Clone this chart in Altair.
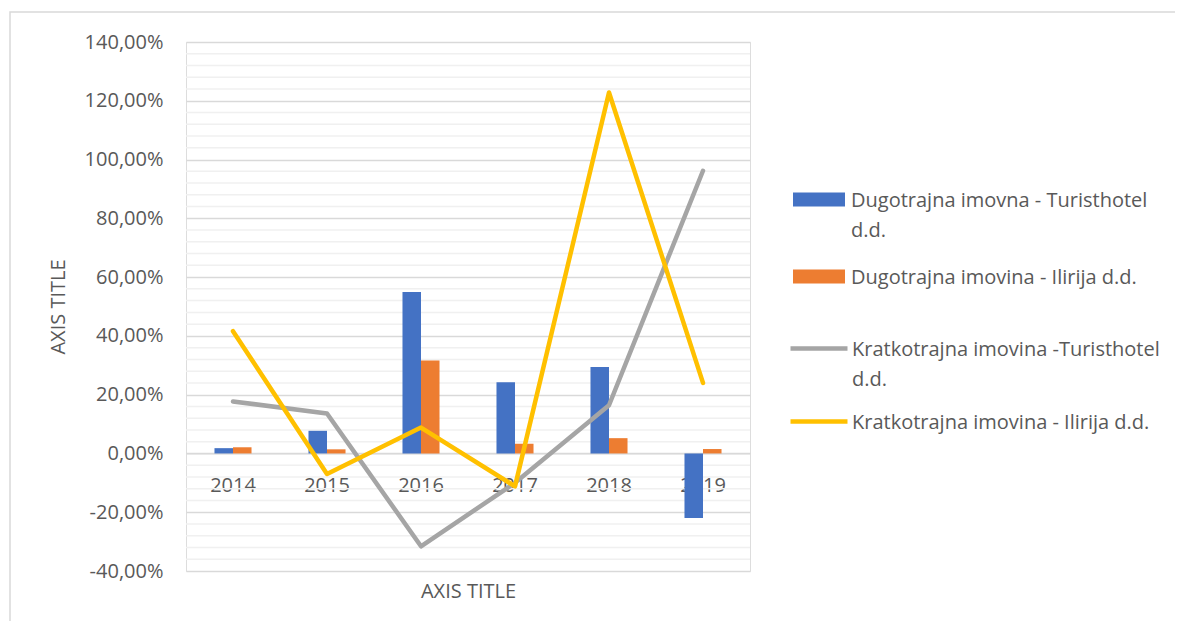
import altair as alt
import pandas as pd

years = ["2014", "2015", "2016", "2017", "2018", "2019"]
bar_series = ["Dugotrajna imovna - Turisthotel d.d.", "Dugotrajna imovina - Ilirija d.d."]
line_series = ["Kratkotrajna imovina -Turisthotel d.d.", "Kratkotrajna imovina - Ilirija d.d."]

# values in percent
dug_turisthotel = [1.8, 7.7, 54.9, 24.2, 29.4, -22.0]
dug_ilirija = [2.1, 1.4, 31.6, 3.3, 5.2, 1.5]
krat_turisthotel = [17.7, 13.6, -31.6, -10.0, 16.4, 96.2]
krat_ilirija = [41.6, -7.0, 8.8, -11.2, 122.8, 24.0]

y_ticks = [-40, -20, 0, 20, 40, 60, 80, 100, 120, 140]
minor_grid = [v for v in range(-40, 141, 4) if v % 20 != 0]

bar_colors = ["#4472C4", "#ED7D31"]
line_colors = ["#A5A5A5", "#FFC000"]

FONT = "Open Sans"
TXT = "#595959"

bars_df = pd.DataFrame({
    "year": years * 2,
    "series": [bar_series[0]] * 6 + [bar_series[1]] * 6,
    "value": dug_turisthotel + dug_ilirija,
})
lines_df = pd.DataFrame({
    "year": years * 2,
    "series": [line_series[0]] * 6 + [line_series[1]] * 6,
    "value": krat_turisthotel + krat_ilirija,
})
grid_df = pd.DataFrame({"value": minor_grid})

W, H = 564, 529

x_enc = alt.X(
    "year:N",
    sort=years,
    scale=alt.Scale(paddingInner=0.606, paddingOuter=0.303),
    axis=alt.Axis(
        title="AXIS TITLE",
        offset=-117.7,
        ticks=False,
        tickSize=0,
        domainColor="#D9D9D9",
        domainWidth=1.5,
        labelAngle=0,
        labelPadding=22,
        labelFont=FONT,
        labelFontSize=20,
        labelColor=TXT,
        titleFont=FONT,
        titleFontSize=20,
        titleFontWeight="normal",
        titleColor=TXT,
        titleY=138,
        titleBaseline="middle",
        grid=False,
    ),
)

y_enc = alt.Y(
    "value:Q",
    scale=alt.Scale(domain=[-40, 140], nice=False, zero=False),
    axis=alt.Axis(
        title="AXIS TITLE",
        values=y_ticks,
        labelExpr="(datum.value < 0 ? '-' : '') + replace(format(abs(datum.value), '.2f'), '.', ',') + '%'",
        domain=False,
        ticks=False,
        tickSize=0,
        labelPadding=23,
        labelFont=FONT,
        labelFontSize=20,
        labelColor=TXT,
        grid=True,
        gridColor="#D9D9D9",
        gridWidth=1.5,
        titleFont=FONT,
        titleFontSize=20,
        titleFontWeight="normal",
        titleColor=TXT,
        titleX=-128,
        titleY=H / 2,
        titleAlign="center",
        titleBaseline="middle",
        titleAngle=270,
    ),
)

frame = alt.Chart(pd.DataFrame({"k": [0]})).mark_rect(
    fillOpacity=0, stroke="#D9D9D9", strokeWidth=1.5
).encode(
    x=alt.value(-176), x2=alt.value(1100), y=alt.value(-30), y2=alt.value(700)
)

minor = alt.Chart(grid_df).mark_rule(color="#F0F0F0", strokeWidth=1.5).encode(y=y_enc)

bars = alt.Chart(bars_df).mark_bar().encode(
    x=x_enc,
    xOffset=alt.XOffset("series:N", sort=bar_series),
    y=y_enc,
    fill=alt.Fill(
        "series:N",
        scale=alt.Scale(domain=bar_series, range=bar_colors),
        legend=alt.Legend(
            title=None,
            orient="none",
            legendX=607,
            legendY=123,
            padding=0,
            symbolType="M-1,0.06H1V0.6H-1Z",
            symbolSize=2704,
            symbolStrokeWidth=0,
            labelOffset=6,
            labelFont=FONT,
            labelFontSize=20,
            labelColor=TXT,
            labelLimit=400,
            labelBaseline="top",
            rowPadding=1,
            labelExpr="datum.label == 'Dugotrajna imovna - Turisthotel d.d.' ? ['Dugotrajna imovna - Turisthotel', 'd.d.'] : datum.label",
        ),
    ),
)

lines = alt.Chart(lines_df).mark_line(strokeWidth=4.5, strokeCap="round", strokeJoin="round").encode(
    x=x_enc,
    y=y_enc,
    stroke=alt.Stroke(
        "series:N",
        scale=alt.Scale(domain=line_series, range=line_colors),
        legend=alt.Legend(
            title=None,
            orient="none",
            legendX=610,
            legendY=275,
            padding=0,
            symbolType="M-1.39,0.417H1.39",
            symbolSize=1681,
            symbolStrokeWidth=4.5,
            labelOffset=10,
            labelFont=FONT,
            labelFontSize=20,
            labelColor=TXT,
            labelLimit=400,
            labelBaseline="top",
            rowPadding=0,
            labelExpr="datum.label == 'Kratkotrajna imovina -Turisthotel d.d.' ? ['Kratkotrajna imovina -Turisthotel', 'd.d.'] : datum.label",
        ),
    ),
)

chart = alt.layer(frame, minor, bars, lines).resolve_scale(
    fill="independent", stroke="independent"
).properties(
    width=W,
    height=H,
    padding={"left": 178, "top": 34, "right": 425, "bottom": 50},
    autosize=alt.AutoSizeParams(type="none"),
    background="white",
).configure_view(stroke=None).configure(
    style={"guide-label": {"lineHeight": 30}}
)

chart.save("out.html", embed_options={"renderer": "svg", "actions": False})
